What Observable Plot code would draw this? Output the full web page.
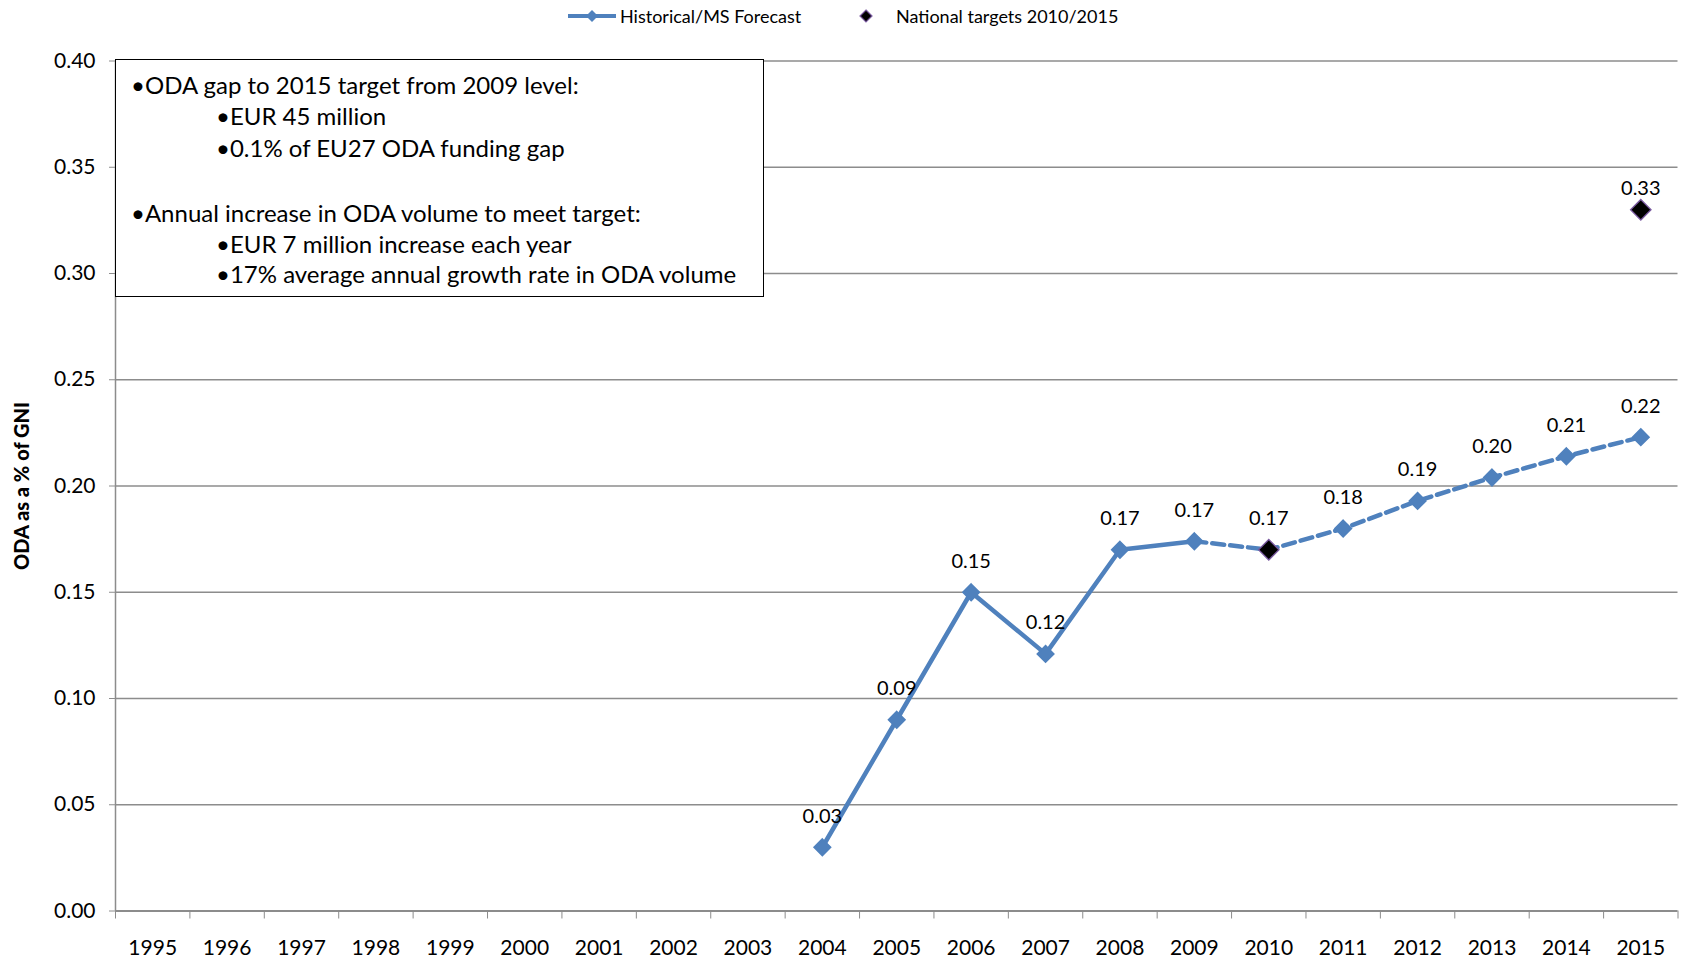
<!DOCTYPE html>
<html>
<head>
<meta charset="utf-8">
<script src="https://cdn.jsdelivr.net/npm/d3@7"></script>
<script src="https://cdn.jsdelivr.net/npm/@observablehq/plot@0.6"></script>
<style>
  body { margin: 0; background: #fff; }
  #wrap { position: relative; width: 1686px; height: 969px; font-family: Lato, "Open Sans", sans-serif; }
  #legend { position: absolute; left: 0; top: 0; width: 1686px; height: 30px; font-size: 18px; color: #000; }
  .leg { position: absolute; top: 5px; line-height: 22px; white-space: nowrap; }
  #box { position: absolute; left: 115px; top: 59px; width: 647px; height: 236px; border: 1.5px solid #000; background: #fff; font-size: 24px; }
  .bl { position: absolute; line-height: 30px; white-space: nowrap; }
</style>
</head>
<body>
<div id="wrap">
  <div id="chart"></div>
  <div id="legend"></div>
  <div id="box"></div>
</div>
<script>
// ---- data ----
const years = [1995,1996,1997,1998,1999,2000,2001,2002,2003,2004,2005,2006,2007,2008,2009,2010,2011,2012,2013,2014,2015];
const histYears = [2004,2005,2006,2007,2008,2009];
const histValues = [0.030,0.090,0.150,0.121,0.170,0.174];
const forecastYears = [2009,2010,2011,2012,2013,2014,2015];
const forecastValues = [0.174,0.170,0.180,0.193,0.204,0.214,0.223];
const targetYears = [2010,2015];
const targetValues = [0.170,0.330];
const yTicks = [0,0.05,0.10,0.15,0.20,0.25,0.30,0.35,0.40];
const seriesNames = ["Historical/MS Forecast","National targets 2010/2015"];
const yTitle = "ODA as a % of GNI";
const boxLines = [
  {text:"•ODA gap to 2015 target from 2009 level:", level:0, row:0},
  {text:"•EUR 45 million", level:1, row:1},
  {text:"•0.1% of EU27 ODA funding gap", level:1, row:2},
  {text:"•Annual increase in ODA volume to meet target:", level:0, row:4},
  {text:"•EUR 7 million increase each year", level:1, row:5},
  {text:"•17% average annual growth rate in ODA volume", level:1, row:6}
];

const blue = "#4F81BD";
const grid = "#8c8c8c";
const fmt = d3.format(".2f");

const hist = histYears.map((x,i)=>({x, y: histValues[i]}));
const fc = forecastYears.map((x,i)=>({x, y: forecastValues[i]}));
const series = hist.concat(fc.slice(1));
const targets = targetYears.map((x,i)=>({x, y: targetValues[i]}));
const xMin = years[0] - 0.5, xMax = years[years.length-1] + 0.5;
const boundaries = years.map(y => y - 0.5).concat([xMax]);

const chart = Plot.plot({
  width: 1686, height: 969,
  marginTop: 60.5, marginBottom: 58.5, marginLeft: 115, marginRight: 8.5,
  style: {fontFamily: "Lato, 'Open Sans', sans-serif", fontSize: "21px", color: "#000", background: "#fff"},
  x: {type: "linear", domain: [xMin, xMax]},
  y: {domain: [0, 0.4]},
  marks: [
    Plot.ruleY(yTicks.filter(t => t > 0), {stroke: grid, strokeWidth: 1.5}),
    Plot.ruleY([0], {stroke: grid, strokeWidth: 2}),
    Plot.ruleX([xMin], {stroke: grid, strokeWidth: 1.5}),
    Plot.axisY({ticks: yTicks, tickFormat: fmt, tickSize: 6, tickPadding: 14, stroke: grid, fontSize: 21, label: null}),
    Plot.axisX({ticks: boundaries, tickSize: 8, tickFormat: () => "", stroke: grid, label: null}),
    Plot.axisX({ticks: years, tickSize: 0, tickPadding: 29, tickFormat: d => String(d), fontSize: 21, label: null}),
    Plot.text([yTitle], {frameAnchor: "left", textAnchor: "middle", text: d => d, rotate: -90, dx: -93, fontWeight: 900, fontSize: 20}),
    Plot.line(hist, {x: "x", y: "y", stroke: blue, strokeWidth: 4.5}),
    Plot.line(fc, {x: "x", y: "y", stroke: blue, strokeWidth: 4.5, strokeDasharray: "12,6"}),
    Plot.dot(series, {x: "x", y: "y", symbol: "diamond2", r: 7.5, fill: blue, stroke: blue}),
    Plot.dot(targets, {x: "x", y: "y", symbol: "diamond2", r: 9.2, fill: "#000", stroke: "#7a5aa0", strokeWidth: 1.3}),
    Plot.text(series, {x: "x", y: "y", text: d => fmt(d.y), dy: -31, fontSize: 20}),
    Plot.text(targets.slice(1), {x: "x", y: "y", text: d => fmt(d.y), dy: -21, fontSize: 20})
  ]
});
document.getElementById("chart").appendChild(chart);

// legend
const legend = document.getElementById("legend");
legend.innerHTML = `
  <svg class="leg" style="left:566px;top:7px" width="52" height="18">
    <line x1="2" y1="9" x2="50" y2="9" stroke="${blue}" stroke-width="4"/>
    <path d="M26,3 L32,9 L26,15 L20,9 Z" fill="${blue}"/>
  </svg>
  <div class="leg" style="left:620px">${seriesNames[0]}</div>
  <svg class="leg" style="left:857px;top:7px" width="18" height="18">
    <path d="M9,3 L15,9 L9,15 L3,9 Z" fill="#000" stroke="#7a5aa0" stroke-width="1.2"/>
  </svg>
  <div class="leg" style="left:896px">${seriesNames[1]}</div>`;

// annotation box
const box = document.getElementById("box");
const rowTops = [10, 41, 73, 105, 138, 169, 199];
boxLines.forEach(l => {
  const d = document.createElement("div");
  d.className = "bl";
  d.style.left = (l.level ? 100 : 15) + "px";
  d.style.top = rowTops[l.row] + "px";
  d.textContent = l.text;
  box.appendChild(d);
});
</script>
</body>
</html>
